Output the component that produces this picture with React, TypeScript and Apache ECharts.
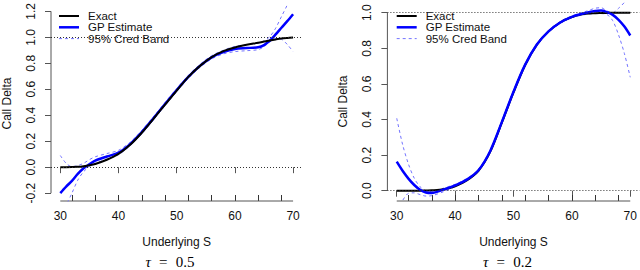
import React, { useEffect, useRef } from "react";
import * as echarts from "echarts";

// Underlying price grid (shared by all curves)
const S = [30, 31, 32, 33, 34, 35, 36, 38, 40, 42, 44, 46, 48, 50, 52, 54, 56, 58, 60, 62, 64, 65, 66, 67, 68, 69, 70];

// Panel A: tau = 0.5
const exactA = [0.0, 0.0, 0.001, 0.003, 0.008, 0.015, 0.025, 0.057, 0.102, 0.172, 0.265, 0.372, 0.482, 0.59, 0.695, 0.78, 0.848, 0.894, 0.922, 0.942, 0.958, 0.967, 0.976, 0.984, 0.991, 0.995, 0.998];
const gpA = [-0.2, -0.15, -0.105, -0.052, -0.008, 0.022, 0.05, 0.082, 0.112, 0.178, 0.27, 0.376, 0.486, 0.594, 0.695, 0.78, 0.846, 0.886, 0.91, 0.917, 0.924, 0.94, 0.974, 1.022, 1.074, 1.125, 1.178];
const upperA = [0.09, 0.03, 0.004, 0.012, 0.03, 0.058, 0.08, 0.105, 0.13, 0.192, 0.283, 0.388, 0.498, 0.606, 0.707, 0.792, 0.858, 0.9, 0.93, 0.944, 0.955, 0.972, 1.005, 1.07, 1.16, 1.25, 1.37];
const lowerA = [-0.5, -0.3, -0.2, -0.1, -0.035, 0.005, 0.03, 0.062, 0.096, 0.165, 0.257, 0.364, 0.474, 0.582, 0.683, 0.768, 0.834, 0.872, 0.89, 0.897, 0.905, 0.928, 0.963, 0.99, 0.985, 0.945, 0.89];

// Panel B: tau = 0.2
const exactB = [0.0, 0.0, 0.0, 0.0, 0.0, 0.001, 0.002, 0.008, 0.025, 0.058, 0.112, 0.218, 0.382, 0.552, 0.706, 0.82, 0.895, 0.945, 0.976, 0.992, 0.997, 0.998, 0.999, 1.0, 1.0, 1.0, 1.0];
const gpB = [0.163, 0.112, 0.068, 0.032, 0.005, -0.01, -0.013, 0.006, 0.03, 0.062, 0.115, 0.222, 0.385, 0.556, 0.708, 0.821, 0.895, 0.945, 0.977, 0.996, 1.01, 1.012, 1.003, 0.988, 0.96, 0.922, 0.872];
const upperB = [0.407, 0.26, 0.15, 0.07, 0.022, 0.0, -0.004, 0.014, 0.036, 0.068, 0.121, 0.228, 0.392, 0.563, 0.714, 0.826, 0.9, 0.95, 0.982, 1.003, 1.025, 1.028, 1.01, 1.0, 1.025, 1.058, 1.1];
const lowerB = [-0.11, -0.055, -0.015, -0.012, -0.022, -0.03, -0.028, -0.006, 0.022, 0.056, 0.109, 0.216, 0.378, 0.55, 0.702, 0.815, 0.89, 0.94, 0.972, 0.988, 0.995, 0.995, 0.99, 0.955, 0.875, 0.77, 0.637];

// Axes
const xTicks = [30, 40, 50, 60, 70];
const rugTicks = [32, 36, 40, 44, 48, 52, 56, 60, 64, 68];
const yTicksA = [-0.2, 0.0, 0.2, 0.4, 0.6, 0.8, 1.0, 1.2];
const yTicksB = [0.0, 0.2, 0.4, 0.6, 0.8, 1.0];
const refLevels = [0, 1];
const tauLabels = ["0.5", "0.2"];
const legendNames = ["Exact", "GP Estimate", "95% Cred Band"];

const X_MIN = 28.4;
const X_MAX = 71.6;
const Y_RANGE_A = [-0.2604, 1.2415];
const Y_RANGE_B = [-0.0579, 1.0601];

const AXIS_COLOR = "#555";
const TEXT_COLOR = "#111";
const SANS = "Liberation Sans, Arial, sans-serif";
const SERIF = "Liberation Serif, Times New Roman, serif";

const EXACT_STYLE = { color: "#000000", width: 2 };
const GP_STYLE = { color: "#0000ff", width: 2.5 };
const BAND_STYLE = { color: "#7373ff", width: 1, type: [3, 3] as number[] };
const legendStyles = [EXACT_STYLE, GP_STYLE, BAND_STYLE];

const pairs = (ys: number[]) => S.map((x, i) => [x, ys[i]]);

export default function App() {
  const ref = useRef<HTMLDivElement>(null);

  useEffect(() => {
    if (!ref.current) return;
    const chart = echarts.init(ref.current, undefined, { renderer: "svg" });

    const panels = [
      { exact: exactA, gp: gpA, up: upperA, lo: lowerA, yr: Y_RANGE_A, yt: yTicksA, blueOnTop: false },
      { exact: exactB, gp: gpB, up: upperB, lo: lowerB, yr: Y_RANGE_B, yt: yTicksB, blueOnTop: true },
    ];
    const grids = [
      { left: 49.6, top: 2, width: 252.8, height: 199 },
      { left: 387.4, top: 2, width: 252.2, height: 199 },
    ];
    const legendLeft = [59, 396.7];
    const legendTop = 16;
    const legendPitch = 11.3;
    const tauX = [170, 507.5];

    const xAxis: any[] = [];
    const yAxis: any[] = [];
    const series: any[] = [];
    const graphic: any[] = [];

    panels.forEach((p, g) => {
      xAxis.push({
        type: "value",
        gridIndex: g,
        min: X_MIN,
        max: X_MAX,
        position: "bottom",
        axisLine: { show: false },
        splitLine: { show: false },
        axisTick: { show: true, customValues: xTicks, length: 6, lineStyle: { color: AXIS_COLOR, width: 1 } },
        axisLabel: { customValues: xTicks, margin: 9, fontSize: 12, fontFamily: SANS, color: TEXT_COLOR },
        name: "Underlying S",
        nameLocation: "middle",
        nameGap: 35,
        nameTextStyle: { fontSize: 12, fontFamily: SANS, color: TEXT_COLOR },
      });
      xAxis.push({
        type: "value",
        gridIndex: g,
        min: X_MIN,
        max: X_MAX,
        position: "bottom",
        axisLine: { show: false },
        splitLine: { show: false },
        axisLabel: { show: false },
        axisTick: { show: true, inside: true, customValues: rugTicks, length: 6, lineStyle: { color: "#333", width: 1 } },
      });
      yAxis.push({
        type: "value",
        gridIndex: g,
        min: p.yr[0],
        max: p.yr[1],
        axisLine: { show: false },
        splitLine: { show: false },
        axisTick: { show: true, customValues: p.yt, length: 6, lineStyle: { color: AXIS_COLOR, width: 1 } },
        axisLabel: {
          customValues: p.yt,
          rotate: 90,
          margin: 14,
          fontSize: 12,
          fontFamily: SANS,
          color: TEXT_COLOR,
          formatter: (v: number) => v.toFixed(1),
        },
        name: "Call Delta",
        nameLocation: "middle",
        nameRotate: 90,
        nameGap: 38,
        nameTextStyle: { fontSize: 12, fontFamily: SANS, color: TEXT_COLOR },
      });

      const xi = g * 2;
      const common = { xAxisIndex: xi, yAxisIndex: g, symbol: "none", showSymbol: false, silent: true };

      // R-style axis lines spanning only the tick range
      series.push({
        ...common,
        type: "line",
        name: "_xaxis" + g,
        clip: false,
        data: [[xTicks[0], p.yr[0]], [xTicks[xTicks.length - 1], p.yr[0]]],
        lineStyle: { color: AXIS_COLOR, width: 1 },
        z: 1,
      });
      series.push({
        ...common,
        type: "line",
        name: "_yaxis" + g,
        clip: false,
        data: [[X_MIN, p.yt[0]], [X_MIN, p.yt[p.yt.length - 1]]],
        lineStyle: { color: AXIS_COLOR, width: 1 },
        z: 1,
        markLine: {
          silent: true,
          symbol: ["none", "none"],
          label: { show: false },
          lineStyle: { type: [1, 2], color: "#333", width: 1 },
          data: refLevels.map((v) => ({ yAxis: v })),
        },
      });

      series.push({ ...common, type: "line", name: legendNames[2], data: pairs(p.up), smooth: 0.3, lineStyle: BAND_STYLE, z: 2 });
      series.push({ ...common, type: "line", name: legendNames[2], data: pairs(p.lo), smooth: 0.3, lineStyle: BAND_STYLE, z: 2 });
      series.push({
        ...common,
        type: "line",
        name: legendNames[1],
        data: pairs(p.gp),
        smooth: 0.3,
        lineStyle: GP_STYLE,
        z: p.blueOnTop ? 4 : 3,
      });
      series.push({
        ...common,
        type: "line",
        name: legendNames[0],
        data: pairs(p.exact),
        smooth: 0.3,
        lineStyle: EXACT_STYLE,
        z: p.blueOnTop ? 3 : 4,
      });

      // R-style legend (no box)
      legendNames.forEach((nm, i) => {
        const y = legendTop + i * legendPitch;
        const st = legendStyles[i];
        graphic.push({
          type: "line",
          shape: { x1: legendLeft[g], y1: y, x2: legendLeft[g] + 20, y2: y },
          style: { stroke: st.color, lineWidth: st.width, lineDash: (st as any).type || null },
          silent: true,
        });
        graphic.push({
          type: "text",
          x: legendLeft[g] + 29,
          y,
          style: {
            text: nm,
            fill: TEXT_COLOR,
            font: "11.5px " + SANS,
            align: "left",
            verticalAlign: "middle",
          },
          silent: true,
        });
      });

      graphic.push({
        type: "text",
        x: tauX[g],
        y: 262,
        silent: true,
        style: {
          text: "{t|τ}{e|=}{n|" + tauLabels[g] + "}",
          align: "center",
          verticalAlign: "middle",
          fill: "#000",
          rich: {
            t: { fontFamily: SERIF, fontStyle: "italic", fontSize: 15, fill: "#000" },
            e: { fontFamily: SERIF, fontSize: 15, width: 25, align: "center", fill: "#000" },
            n: { fontFamily: SERIF, fontSize: 15, fill: "#000" },
          },
        },
      });
    });

    chart.setOption({
      animation: false,
      grid: grids,
      xAxis,
      yAxis,
      series,
      graphic,
    });

    return () => chart.dispose();
  }, []);

  return (
    <div
      ref={ref}
      style={{ position: "fixed", left: 0, top: 0, width: 640, height: 270, background: "#fff" }}
    />
  );
}
